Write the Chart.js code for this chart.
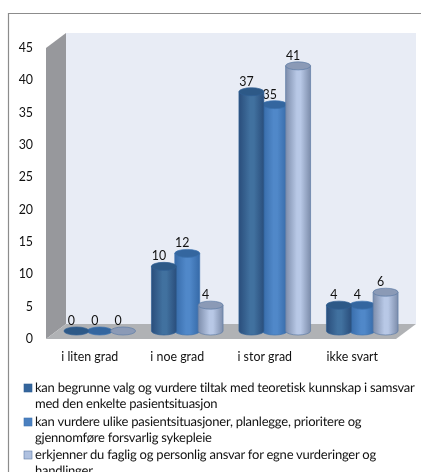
<!DOCTYPE html>
<html>
<head>
<meta charset="utf-8">
<style>
	html, body { margin: 0; padding: 0; background: #fff; overflow: hidden; }
	canvas { display: block; filter: blur(0.3px); }
</style>
<script src="https://cdn.jsdelivr.net/npm/chart.js@4"></script>
</head>
<body>
<canvas id="chart" width="421" height="472"></canvas>
<script>
var categories = ["i liten grad", "i noe grad", "i stor grad", "ikke svart"];
var valuesBegrunne = [0, 10, 37, 4];
var valuesVurdere = [0, 12, 35, 4];
var valuesErkjenner = [0, 4, 41, 6];
var yTicks = [0, 5, 10, 15, 20, 25, 30, 35, 40, 45];
var legendBegrunne = ["kan begrunne valg og vurdere tiltak med teoretisk kunnskap i samsvar", "med den enkelte pasientsituasjon"];
var legendVurdere = ["kan vurdere ulike pasientsituasjoner, planlegge, prioritere og", "gjennomføre forsvarlig sykepleie"];
var legendErkjenner = ["erkjenner du faglig og personlig ansvar for egne vurderinger og", "handlinger"];

var fontName = "Lato, 'Open Sans', sans-serif";
var fontSize = 12.4;
var legendFontSize = 13;
var textColor = "#111";
var depthX = 20;
var depthY = 15;
var barShiftX = 10;
var barShiftY = 8;
var capHeight = 4;

var looks = [
	{ edge: "#2a4e7c", mid: "#41719f", cap: "#2d5987", line: "#2f5f94", swatch: "#34659c" },
	{ edge: "#366aa8", mid: "#5088c9", cap: "#34669f", line: "#3c72b0", swatch: "#4a80c0" },
	{ edge: "#7d8dab", mid: "#b8c8e6", cap: "#8b9ab6", line: "#5f7ca6", swatch: "#afc1e0" }
];
// the middle series sits behind its neighbours, its label gets cut by the first bar
var drawOrder = [1, 0, 2];

function polygon(ctx, points, fill) {
	ctx.beginPath();
	ctx.moveTo(points[0][0], points[0][1]);
	for (var i = 1; i < points.length; i++)
		ctx.lineTo(points[i][0], points[i][1]);
	ctx.closePath();
	ctx.fillStyle = fill;
	ctx.fill();
}

function drawCylinder(ctx, bar, look) {
	var width = bar.width + 1.6;
	var x = bar.x + barShiftX - width / 2;
	var top = bar.y - barShiftY;
	var bottom = bar.base - barShiftY;
	var rx = width / 2;
	var cx = x + rx;

	if (bottom - top > 0.5) {
		var gradient = ctx.createLinearGradient(x, 0, x + width, 0);
		gradient.addColorStop(0, look.edge);
		gradient.addColorStop(0.45, look.mid);
		gradient.addColorStop(0.6, look.mid);
		gradient.addColorStop(1, look.edge);
		ctx.beginPath();
		ctx.moveTo(x, top);
		ctx.lineTo(x, bottom);
		ctx.ellipse(cx, bottom, rx, capHeight, 0, Math.PI, 0, true);
		ctx.lineTo(x + width, top);
		ctx.closePath();
		ctx.fillStyle = gradient;
		ctx.fill();
		ctx.strokeStyle = look.line;
		ctx.lineWidth = 0.7;
		ctx.stroke();
	}

	ctx.beginPath();
	ctx.ellipse(cx, top, rx, capHeight, 0, 0, Math.PI * 2);
	ctx.fillStyle = look.cap;
	ctx.fill();
	ctx.strokeStyle = look.line;
	ctx.lineWidth = 0.7;
	ctx.stroke();
}

function drawLabels(ctx, meta, values) {
	ctx.fillStyle = textColor;
	meta.data.forEach(function(bar, i) {
		ctx.fillText(values[i], bar.x + barShiftX - 5, bar.y - barShiftY - 10);
	});
}

var box3d = {
	id: "box3d",
	beforeDraw: function(chart) {
		var ctx = chart.ctx;
		var a = chart.chartArea;
		ctx.save();
		ctx.fillStyle = "#fff";
		ctx.fillRect(0, 0, chart.width, chart.height);
		polygon(ctx, [[a.left + depthX, a.top - depthY], [a.right + depthX, a.top - depthY], [a.right + depthX, a.bottom - depthY], [a.left + depthX, a.bottom - depthY]], "#e8ecf5");
		polygon(ctx, [[a.left, a.top], [a.left + depthX, a.top - depthY], [a.left + depthX, a.bottom - depthY], [a.left, a.bottom]], "#97989c");
		polygon(ctx, [[a.left, a.bottom], [a.left + depthX, a.bottom - depthY], [a.right + depthX, a.bottom - depthY], [a.right, a.bottom]], "#b0b2b5");
		// outer frame runs off the right and bottom of the picture
		ctx.strokeStyle = "#8c8c8c";
		ctx.lineWidth = 1.2;
		ctx.beginPath();
		ctx.moveTo(8.5, chart.height);
		ctx.lineTo(8.5, 13.5);
		ctx.lineTo(chart.width, 13.5);
		ctx.stroke();
		ctx.restore();
	},
	afterDatasetsDraw: function(chart) {
		var ctx = chart.ctx;
		ctx.save();
		ctx.font = fontSize + "px " + fontName;
		ctx.textAlign = "center";
		ctx.textBaseline = "middle";
		drawOrder.forEach(function(index) {
			var meta = chart.getDatasetMeta(index);
			var values = chart.data.datasets[index].data;
			meta.data.forEach(function(bar) {
				drawCylinder(ctx, bar, looks[index]);
			});
			if (index == 1) drawLabels(ctx, meta, values);
		});
		[0, 2].forEach(function(index) {
			drawLabels(ctx, chart.getDatasetMeta(index), chart.data.datasets[index].data);
		});
		ctx.restore();
	},
	afterDraw: function(chart) {
		var ctx = chart.ctx;
		var rows = [legendBegrunne, legendVurdere, legendErkjenner];
		var rowTops = [388, 422, 455];
		ctx.save();
		ctx.font = legendFontSize + "px " + fontName;
		ctx.textRendering = "geometricPrecision";
		ctx.letterSpacing = "-0.23px";
		ctx.textAlign = "left";
		ctx.textBaseline = "middle";
		rows.forEach(function(lines, index) {
			ctx.fillStyle = looks[index].swatch;
			ctx.fillRect(24, rowTops[index] - 4, 8, 8);
			ctx.strokeStyle = looks[index].line;
			ctx.lineWidth = 0.6;
			ctx.strokeRect(24, rowTops[index] - 4, 8, 8);
			ctx.fillStyle = textColor;
			lines.forEach(function(line, n) {
				ctx.fillText(line, 35, rowTops[index] + n * 16);
			});
		});
		ctx.restore();
	}
};

function makeDataset(name, values) {
	return {
		label: name.join(" "),
		data: values,
		backgroundColor: "rgba(0,0,0,0)",
		borderWidth: 0,
		categoryPercentage: 0.8,
		barPercentage: 1
	};
}

new Chart(document.getElementById("chart"), {
	type: "bar",
	data: {
		labels: categories,
		datasets: [
			makeDataset(legendBegrunne, valuesBegrunne),
			makeDataset(legendVurdere, valuesVurdere),
			makeDataset(legendErkjenner, valuesErkjenner)
		]
	},
	options: {
		responsive: false,
		animation: false,
		layout: { padding: { top: 48, right: 25, left: 0, bottom: 0 } },
		plugins: { legend: { display: false }, tooltip: { enabled: false } },
		scales: {
			x: {
				afterFit: function(scale) { scale.height = 133; },
				grid: { display: false },
				border: { display: false },
				ticks: { color: textColor, font: { family: fontName, size: fontSize }, padding: 3, maxRotation: 0 }
			},
			y: {
				min: 0,
				max: 45,
				afterFit: function(scale) { scale.width = 46; },
				afterBuildTicks: function(scale) {
					scale.ticks = yTicks.map(function(v) { return { value: v }; });
				},
				grid: { display: false },
				border: { display: false },
				ticks: { color: textColor, font: { family: fontName, size: fontSize }, padding: 5 }
			}
		}
	},
	plugins: [box3d]
});
</script>
</body>
</html>
